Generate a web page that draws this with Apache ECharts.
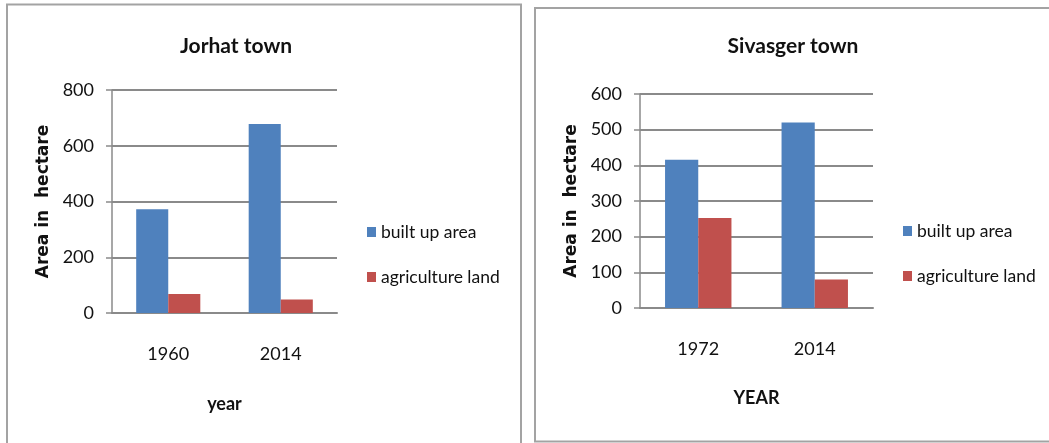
<!DOCTYPE html>
<html>
<head>
<meta charset="utf-8">
<script src="https://cdn.jsdelivr.net/npm/echarts@6/dist/echarts.min.js"></script>
<style>
  html, body { margin: 0; padding: 0; background: #ffffff; }
  #chart { width: 1049px; height: 443px; }
</style>
</head>
<body>
<div id="chart"></div>
<script>
// Land use change in two Assam towns (area in hectare)
const seriesNames = ['built up area', 'agriculture land'];

const jorhatYears = ['1960', '2014'];
const jorhatBuiltUp = [372, 678];
const jorhatAgriculture = [68, 48];
const jorhatTicks = { min: 0, max: 800, interval: 200 };

const sivasgerYears = ['1972', '2014'];
const sivasgerBuiltUp = [416, 520];
const sivasgerAgriculture = [252, 80];
const sivasgerTicks = { min: 0, max: 600, interval: 100 };

const BLUE = '#4F81BD';
const RED = '#C0504D';
const GRID_GREY = '#8a8a8a';
const TEXT = '#111111';
const BODY_FONT = 'Lato, "Open Sans", sans-serif';

function valueAxis(gridIndex, ticks) {
  return {
    type: 'value',
    gridIndex: gridIndex,
    min: ticks.min,
    max: ticks.max,
    interval: ticks.interval,
    name: 'Area in  hectare',
    nameLocation: 'middle',
    nameGap: 60,
    nameTextStyle: {
      fontFamily: '"DejaVu Sans", Verdana, sans-serif',
      fontWeight: 'bold',
      fontSize: 17,
      color: TEXT
    },
    axisLine: { show: true, lineStyle: { color: GRID_GREY, width: 1.5 } },
    axisTick: { show: true, length: 6, lineStyle: { color: GRID_GREY, width: 1.5 } },
    axisLabel: { fontFamily: BODY_FONT, fontSize: 18, color: TEXT, margin: 18 },
    splitLine: { show: true, lineStyle: { color: GRID_GREY, width: 2 } }
  };
}

function categoryAxis(gridIndex, years, name, gap) {
  return {
    type: 'category',
    gridIndex: gridIndex,
    data: years,
    name: name,
    nameLocation: 'middle',
    nameGap: gap,
    nameTextStyle: { fontFamily: BODY_FONT, fontWeight: 'bold', fontSize: 18, color: TEXT },
    axisLine: { show: true, lineStyle: { color: GRID_GREY, width: 2 } },
    axisTick: { show: false },
    axisLabel: { fontFamily: BODY_FONT, fontSize: 18, color: TEXT, margin: 32 }
  };
}

function barSeries(name, axisIndex, data, color) {
  return {
    name: name,
    type: 'bar',
    xAxisIndex: axisIndex,
    yAxisIndex: axisIndex,
    data: data,
    barGap: '0%',
    barCategoryGap: '43%',
    itemStyle: { color: color },
    emphasis: { disabled: true }
  };
}

function legendAt(left, top) {
  return {
    orient: 'vertical',
    left: left,
    top: top,
    padding: 0,
    icon: 'rect',
    itemWidth: 9,
    itemHeight: 10,
    itemGap: 25,
    data: seriesNames,
    textStyle: { fontFamily: BODY_FONT, fontSize: 17.5, color: TEXT, lineHeight: 20 },
    selectedMode: false
  };
}

function titleText(x, y, text) {
  return {
    type: 'text',
    x: x,
    y: y,
    style: {
      text: text,
      fill: TEXT,
      font: 'bold 21px Lato, "Open Sans", sans-serif',
      align: 'center',
      verticalAlign: 'middle',
      textAlign: 'center',
      textVerticalAlign: 'middle'
    }
  };
}

const chart = echarts.init(document.getElementById('chart'), null, { renderer: 'canvas' });

chart.setOption({
  animation: false,
  backgroundColor: '#ffffff',
  graphic: [
    // panel frames
    { type: 'rect', shape: { x: 7, y: 4.5, width: 514, height: 460 },
      style: { fill: 'none', stroke: '#a3a3a3', lineWidth: 2 }, silent: true },
    { type: 'rect', shape: { x: 535, y: 8, width: 540, height: 433.5 },
      style: { fill: 'none', stroke: '#a3a3a3', lineWidth: 2 }, silent: true },
    titleText(236, 46, 'Jorhat town'),
    titleText(793, 46, 'Sivasger town')
  ],
  legend: [legendAt(367, 222), legendAt(903, 221)],
  grid: [
    { left: 112, top: 90, width: 225, height: 223, containLabel: false },
    { left: 640, top: 94, width: 233, height: 214, containLabel: false }
  ],
  xAxis: [
    categoryAxis(0, jorhatYears, 'year', 82),
    categoryAxis(1, sivasgerYears, 'YEAR', 81)
  ],
  yAxis: [
    valueAxis(0, jorhatTicks),
    valueAxis(1, sivasgerTicks)
  ],
  series: [
    barSeries(seriesNames[0], 0, jorhatBuiltUp, BLUE),
    barSeries(seriesNames[1], 0, jorhatAgriculture, RED),
    barSeries(seriesNames[0], 1, sivasgerBuiltUp, BLUE),
    barSeries(seriesNames[1], 1, sivasgerAgriculture, RED)
  ]
});
</script>
</body>
</html>
